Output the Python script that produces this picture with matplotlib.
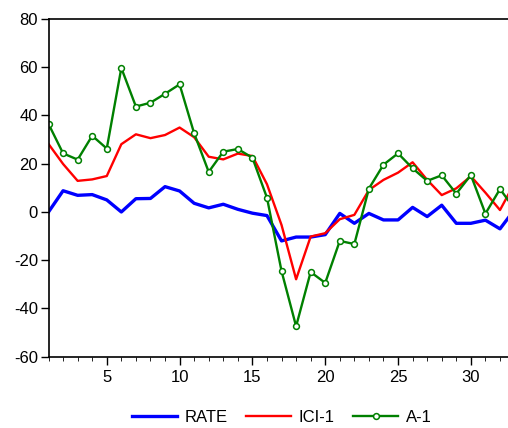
import numpy as np
import matplotlib.pyplot as plt
from matplotlib.ticker import MultipleLocator

plt.rcParams['font.family'] = ['Liberation Sans', 'DejaVu Sans']
plt.rcParams['axes.unicode_minus'] = False

periods = np.arange(1, 34)
rate = [0.0, 8.8, 6.9, 7.2, 5.0, 0.0, 5.5, 5.6, 10.5, 8.7, 3.6, 1.7, 3.2, 1.1, -0.5,
        -1.5, -12.0, -10.4, -10.4, -9.4, -0.6, -4.7, -0.6, -3.3, -3.3, 1.9, -1.9, 2.8,
        -4.7, -4.7, -3.4, -7.0, 1.0]
ici1 = [28.2, 19.9, 12.9, 13.5, 14.9, 28.1, 32.2, 30.6, 31.9, 35.0, 31.0, 22.9, 21.8,
        24.2, 23.2, 11.5, -5.4, -27.9, -10.2, -8.8, -3.0, -1.2, 9.1, 13.3, 16.3, 20.6,
        13.3, 7.0, 9.8, 14.8, 8.0, 0.8, 12.0]
a1 = [36.5, 24.3, 21.7, 31.6, 26.3, 59.7, 43.7, 45.3, 49.0, 52.9, 32.6, 16.6, 25.0,
      26.1, 22.5, 5.9, -24.5, -47.4, -24.9, -29.4, -12.0, -13.3, 9.7, 19.6, 24.3, 18.1,
      12.9, 15.2, 7.6, 15.3, -0.7, 9.5, 1.3]

fig = plt.figure(figsize=(5.08, 4.28), dpi=100)
ax = fig.add_axes([0.0955, 0.1666, 0.9045, 0.789])

ax.plot(periods, rate, color='blue', lw=2.4, label='RATE')
ax.plot(periods, ici1, color='red', lw=1.7, label='ICI-1')
ax.plot(periods, a1, color='green', lw=1.7, marker='o', markersize=4.2,
        markerfacecolor='white', markeredgecolor='green', markeredgewidth=1.1, label='A-1')

ax.set_xlim(1, 32.55)
ax.set_ylim(-60, 80)
ax.set_yticks(range(-60, 81, 20))
ax.xaxis.set_major_locator(MultipleLocator(5))
ax.xaxis.set_minor_locator(MultipleLocator(1))
ax.spines['right'].set_visible(False)
for s in ['left', 'bottom', 'top']:
    ax.spines[s].set_linewidth(1.2)
ax.tick_params(axis='both', labelsize=12, width=1.0, color='black')
ax.tick_params(axis='y', length=5.5, pad=2)
ax.tick_params(axis='x', which='major', length=5.5, pad=4)
ax.tick_params(axis='x', which='minor', length=3)

fig.legend(loc='center', bbox_to_anchor=(0.555, 0.025), frameon=False, ncol=3,
           fontsize=12, handlelength=2.7, handletextpad=0.45, columnspacing=1.1)

fig.savefig('out.png', dpi=100)
